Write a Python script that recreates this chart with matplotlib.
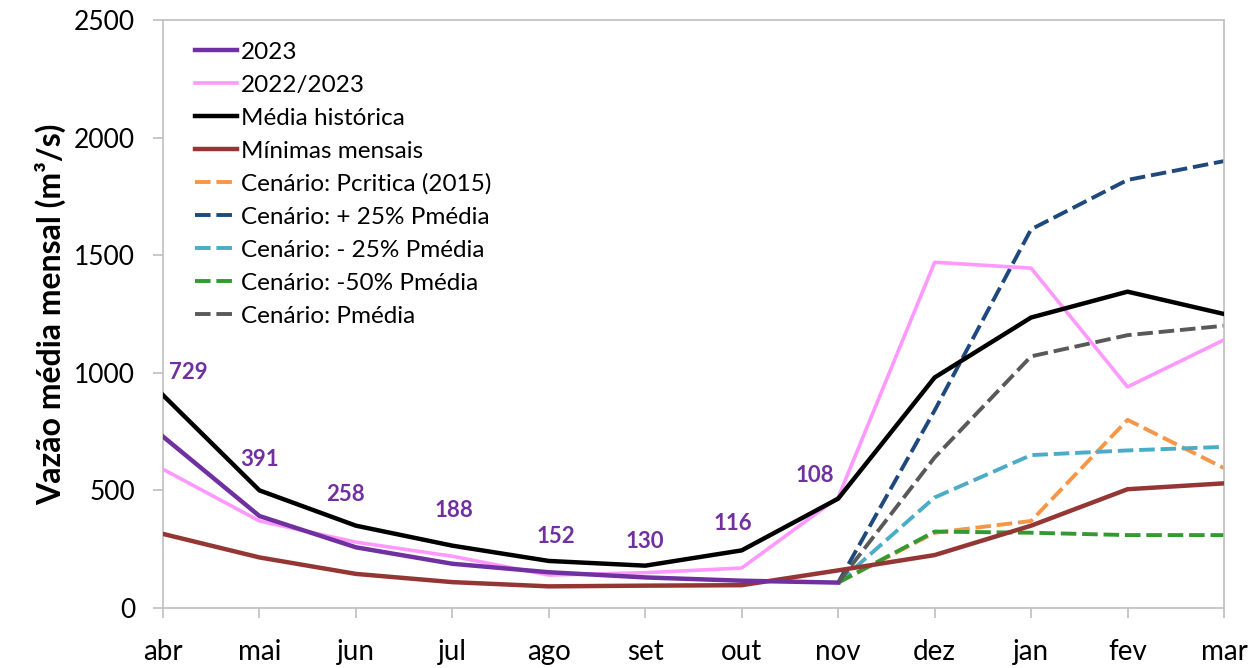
import numpy as np
import matplotlib
matplotlib.use("Agg")
import matplotlib.pyplot as plt

plt.rcParams['font.family'] = ['Lato', 'DejaVu Sans']

months = ["abr", "mai", "jun", "jul", "ago", "set", "out", "nov",
          "dez", "jan", "fev", "mar"]

# observed series
vazao_2023 = [729, 391, 258, 188, 152, 130, 116, 108]
vazao_2022_2023 = [590, 370, 280, 220, 140, 150, 170, 470, 1470, 1445, 940, 1140]
media_historica = [905, 500, 350, 265, 200, 180, 245, 465, 980, 1235, 1345, 1250]
minimas_mensais = [315, 215, 145, 110, 92, 95, 97, 160, 225, 350, 505, 530]

# scenarios (nov -> mar)
cen_pcritica = [108, 320, 370, 800, 595]
cen_mais25 = [108, 840, 1610, 1820, 1900]
cen_menos25 = [108, 470, 650, 670, 685]
cen_menos50 = [108, 325, 320, 310, 310]
cen_pmedia = [108, 640, 1070, 1160, 1200]

# label offsets in pixels (dx, dy) for the 2023 data labels
label_offsets = [(25, 64), (0, 57), (-10, 53), (2, 53), (7, 36), (0, 36), (-9, 57), (-23, 107)]

x_all = np.arange(len(months))
x_2023 = x_all[:len(vazao_2023)]
x_cen = x_all[7:]

fig = plt.figure(figsize=(12.55, 6.68), dpi=100)
ax = fig.add_axes([163 / 1255, 1 - 608 / 668, (1224 - 163) / 1255, (608 - 20) / 668])

purple = "#7030A0"
ax.plot(x_2023, vazao_2023, color=purple, lw=3.2, label="2023", zorder=5)
ax.plot(x_all, vazao_2022_2023, color="#FF99FF", lw=2.6, label="2022/2023", zorder=4)
ax.plot(x_all, media_historica, color="black", lw=3.2, label="Média histórica", zorder=4)
ax.plot(x_all, minimas_mensais, color="#943634", lw=3.2, label="Mínimas mensais", zorder=4)

dash = (0, (4, 1.5))
ax.plot(x_cen, cen_pcritica, color="#F79646", lw=2.8, ls=dash, label="Cenário: Pcritica (2015)")
ax.plot(x_cen, cen_mais25, color="#1F497D", lw=2.8, ls=dash, label="Cenário: + 25% Pmédia")
ax.plot(x_cen, cen_menos25, color="#4BACC6", lw=2.8, ls=dash, label="Cenário: - 25% Pmédia")
ax.plot(x_cen, cen_menos50, color="#339933", lw=2.8, ls=dash, label="Cenário: -50% Pmédia")
ax.plot(x_cen, cen_pmedia, color="#595959", lw=2.8, ls=dash, label="Cenário: Pmédia")

for xi, v, (dx, dy) in zip(x_2023, vazao_2023, label_offsets):
    ax.annotate(str(v), (xi, v), xytext=(dx * 0.72, dy * 0.72), textcoords="offset points",
                ha="center", va="center", fontsize=16, fontweight="bold", color=purple)

ax.set_xlim(0, 11)
ax.set_ylim(0, 2500)
ax.set_xticks(x_all)
ax.set_xticklabels(months)
ax.set_yticks(np.arange(0, 2501, 500))
ax.tick_params(axis="both", color="#BFBFBF", length=7, width=1.2)
ax.tick_params(axis="x", labelsize=20, pad=15)
ax.tick_params(axis="y", labelsize=19, pad=13)
for sp in ax.spines.values():
    sp.set_color("#BFBFBF")
    sp.set_linewidth(1.2)

ax.set_ylabel("Vazão média mensal (m³/s)", fontsize=23, fontweight="bold", labelpad=6)

leg = ax.legend(loc="upper left", bbox_to_anchor=(0.030, 0.963), frameon=False,
                borderpad=0, borderaxespad=0,
                fontsize=17.5, handlelength=1.75, handletextpad=0.15, labelspacing=0.49)

fig.savefig("out.png", dpi=100)
